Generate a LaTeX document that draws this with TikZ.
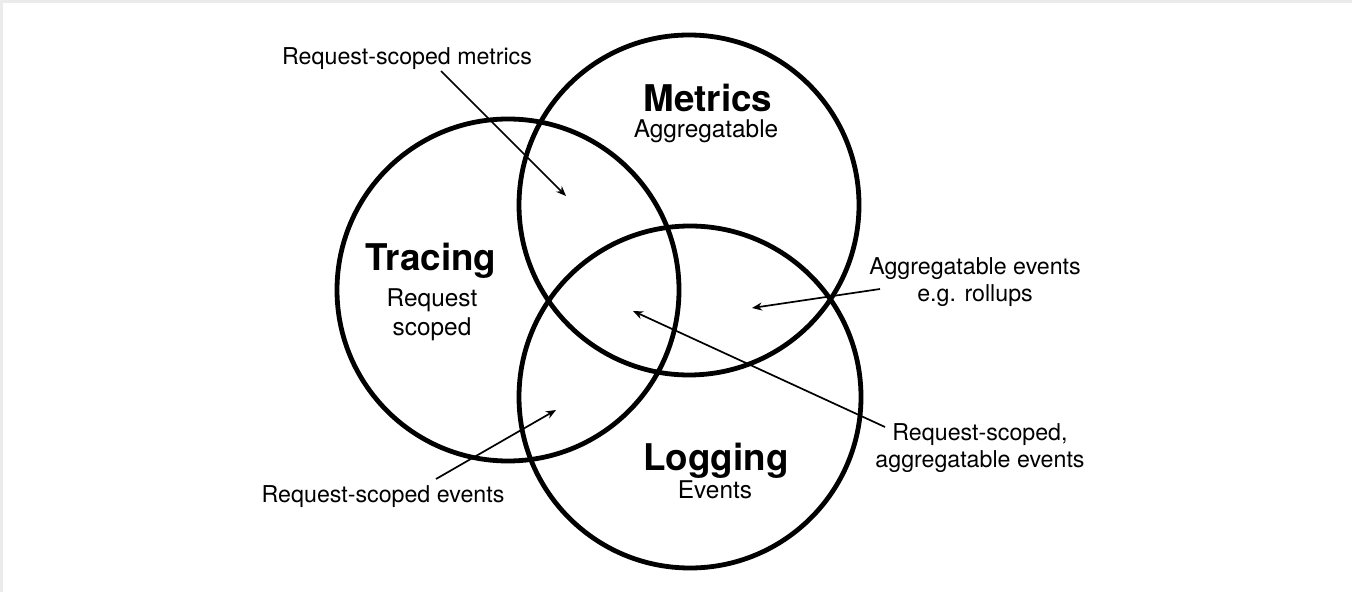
\documentclass[tikz,border=0pt]{standalone}
\usepackage{fontspec}
\setmainfont{TeX Gyre Heros}
\usetikzlibrary{arrows.meta}

\begin{document}
\begin{tikzpicture}[x=0.5pt, y=-0.5pt]
            \tikzstyle{ring} = [line width=2.4pt]
            \tikzstyle{pointer} = [line width=0.85pt, -{Stealth[length=5pt, width=4pt]}]
            \tikzstyle{title} = [anchor=base, inner sep=0pt, font=\fontsize{18.4}{20}\selectfont\bfseries]
            \tikzstyle{subtitle} = [anchor=base, inner sep=0pt, align=center, font=\fontsize{12.2}{14.5}\selectfont]
            \tikzstyle{callout} = [anchor=base, inner sep=0pt, align=center, font=\fontsize{11.6}{13.5}\selectfont]
            \useasboundingbox (0, 0) rectangle (1352, 592);
            \draw[line width=1.5pt, black!8] (1.5, 592) -- (1.5, 1.5) -- (1352, 1.5);
            % the three sets
            \draw[ring] (508, 290) circle (171);
            \draw[ring] (689, 205) circle (170);
            \draw[ring] (690, 397) circle (171);
            \node[title] (tracing) at (431, 271) {Tracing};
            \node[subtitle] (tracingsub) at (432, 336) {Request\\scoped};
            \node[title] (metrics) at (708, 112) {Metrics};
            \node[subtitle] (metricssub) at (706, 138) {Aggregatable};
            \node[title] (logging) at (716, 470) {Logging};
            \node[subtitle] (loggingsub) at (715, 498) {Events};
            % overlaps (base is the last line)
            \node[callout] (lblmetrics) at (407, 65) {Request-scoped metrics};
            \node[callout] (lblrollups) at (975, 302) {Aggregatable events\\e.g. rollups};
            \node[callout] (lblcenter) at (980, 467) {Request-scoped,\\aggregatable events};
            \node[callout] (lblevents) at (383, 502) {Request-scoped events};
            \coordinate (tailmetrics) at (441, 71);
            \coordinate (tipmetrics) at (566, 196);
            \coordinate (tailrollups) at (880, 289);
            \coordinate (tiprollups) at (752, 308);
            \coordinate (tailcenter) at (885, 427);
            \coordinate (tipcenter) at (633, 311);
            \coordinate (tailevents) at (436, 479);
            \coordinate (tipevents) at (556, 410);
            \draw[pointer] (tailmetrics) -- (tipmetrics);
            \draw[pointer] (tailrollups) -- (tiprollups);
            \draw[pointer] (tailcenter) -- (tipcenter);
            \draw[pointer] (tailevents) -- (tipevents);
        \end{tikzpicture}
\end{document}
